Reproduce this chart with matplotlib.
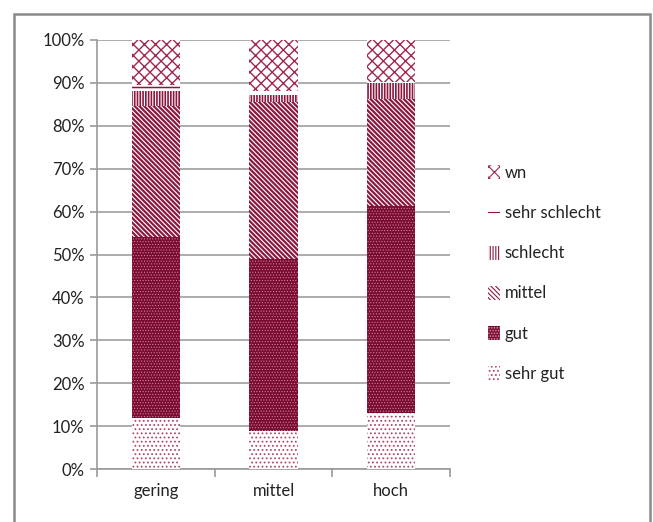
import matplotlib
matplotlib.use("Agg")
import matplotlib.pyplot as plt
from matplotlib.patches import Rectangle
import numpy as np

categories = ["gering", "mittel", "hoch"]
series_names = ["sehr gut", "gut", "mittel", "schlecht", "sehr schlecht", "wn"]
sehr_gut = [12.0, 8.8, 13.1]
gut = [42.0, 40.2, 48.2]
mittel = [30.5, 36.6, 24.9]
schlecht = [3.5, 1.6, 3.7]
sehr_schlecht = [1.5, 0.8, 0.4]
wn = [10.5, 12.0, 9.7]
y_ticks = [0, 10, 20, 30, 40, 50, 60, 70, 80, 90, 100]

maroon = "#8c1840"
# (style, hatch line width) per series
styles = [
    (dict(facecolor="white", edgecolor="#b04a6c", hatch="...."), 0.8),        # sehr gut
    (dict(facecolor="#7a0c32", edgecolor="#d890a8", hatch="......"), 0.4),    # gut
    (dict(facecolor="white", edgecolor=maroon, hatch="\\" * 7), 1.6),         # mittel
    (dict(facecolor="white", edgecolor=maroon, hatch="|" * 6), 1.2),          # schlecht
    (dict(facecolor="white", edgecolor=maroon, hatch="--"), 1.1),             # sehr schlecht
    (dict(facecolor="white", edgecolor="#a02850", hatch="xxx"), 1.0),         # wn
]

plt.rcParams["font.family"] = ["Lato", "DejaVu Sans"]

fig = plt.figure(figsize=(6.53, 5.22), dpi=100)
fig.patches.append(Rectangle((14 / 653, -0.01), (650 - 14) / 653, 1 - 14 / 522 + 0.01,
                             transform=fig.transFigure, fill=False,
                             edgecolor="#8a8a8a", linewidth=1.8, zorder=0))
ax = fig.add_axes([97 / 653, 1 - 469 / 522, (450 - 97) / 653, (469 - 40) / 522])

x = np.arange(len(categories))
bottom = np.zeros(len(categories))
handles = []
for name, vals, (st, hlw) in zip(series_names,
                                  [sehr_gut, gut, mittel, schlecht, sehr_schlecht, wn],
                                  styles):
    with plt.rc_context({"hatch.linewidth": hlw}):
        bars = ax.bar(x, vals, width=0.41, bottom=bottom, label=name,
                      linewidth=0, zorder=3, **st)
    bottom += np.array(vals)
    handles.append(bars)

ax.set_xlim(-0.5, 2.5)
ax.set_ylim(0, 100)
ax.set_yticks(y_ticks)
ax.set_yticklabels([f"{t}%" for t in y_ticks], fontsize=12, color="#222222")
ax.set_xticks(x)
ax.set_xticklabels(categories, fontsize=12, color="#222222")
ax.tick_params(axis="x", length=0, pad=10)
ax.set_xticks([-0.5, 0.5, 1.5, 2.5], minor=True)
ax.tick_params(axis="x", which="minor", length=6, color="#9a9a9a", width=1.2)
ax.tick_params(axis="y", length=5, color="#9a9a9a", width=1.2, pad=4)
ax.yaxis.grid(True, color="#a6a6a6", linewidth=1.3, zorder=0)
ax.set_axisbelow(True)
for s in ["top", "right"]:
    ax.spines[s].set_visible(False)
for s in ["left", "bottom"]:
    ax.spines[s].set_color("#9a9a9a")
    ax.spines[s].set_linewidth(1.2)

with plt.rc_context({"hatch.linewidth": 0.8}):
    leg = fig.legend(handles[::-1], series_names[::-1], loc="upper left",
                     bbox_to_anchor=(473 / 653, 1 - 150 / 522), frameon=False,
                     fontsize=12, handlelength=0.7, handleheight=0.9, handletextpad=0.3,
                     labelspacing=1.45, labelcolor="#222222")

fig.savefig("out.png", dpi=100)
